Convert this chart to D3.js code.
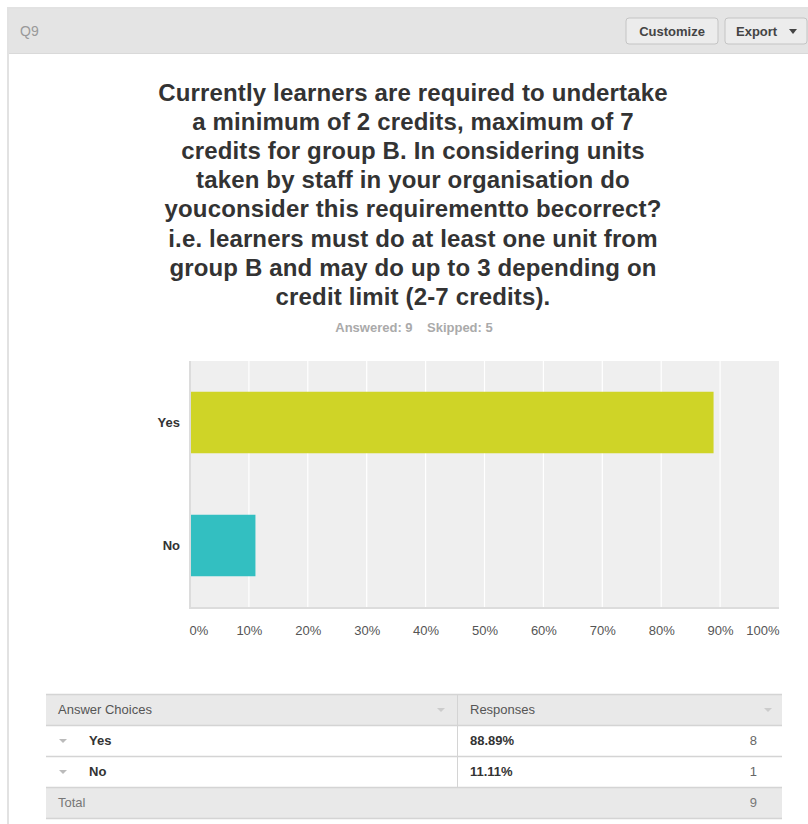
<!DOCTYPE html>
<html>
<head>
<meta charset="utf-8">
<script src="https://cdn.jsdelivr.net/npm/d3@7"></script>
<style>
  html, body { margin: 0; padding: 0; background: #fff; }
  svg { display: block; font-family: "Liberation Sans", Arial, Helvetica, sans-serif; }
</style>
</head>
<body>
<svg id="chart" width="808" height="824"></svg>
<script>
// Survey question and its answers
const questionId = "Q9";
const titleLines = [
  "Currently learners are required to undertake",
  "a minimum of 2 credits, maximum of 7",
  "credits for group B. In considering units",
  "taken by staff in your organisation do",
  "youconsider this requirementto becorrect?",
  "i.e. learners must do at least one unit from",
  "group B and may do up to 3 depending on",
  "credit limit (2-7 credits)."
];
const answered = 9;
const skipped = 5;
const categories = ["Yes", "No"];
const percents = [88.89, 11.11];
const counts = [8, 1];
const barColors = ["#cfd427", "#33bfc1"];
const tickValues = [0, 10, 20, 30, 40, 50, 60, 70, 80, 90, 100];

const svg = d3.select("#chart");

// Card frame and header band
svg.append("rect").attr("x", 8).attr("y", 8).attr("width", 812).attr("height", 830)
  .attr("fill", "#fff").attr("stroke", "#e2e2e2").attr("stroke-width", 2);
svg.append("rect").attr("x", 9).attr("y", 9).attr("width", 810).attr("height", 44)
  .attr("fill", "#e4e4e4");
svg.append("line").attr("x1", 9).attr("x2", 808).attr("y1", 53.5).attr("y2", 53.5)
  .attr("stroke", "#d9d9d9");
svg.append("text").attr("x", 20).attr("y", 36).attr("font-size", 14)
  .attr("fill", "#999").text(questionId);

// Header buttons
const buttons = [
  { label: "Customize", x: 626, w: 92, arrow: false },
  { label: "Export", x: 725, w: 82, arrow: true }
];
const btn = svg.selectAll("g.btn").data(buttons).join("g").attr("class", "btn")
  .attr("transform", d => `translate(${d.x},18)`);
btn.append("rect").attr("width", d => d.w).attr("height", 26).attr("rx", 3)
  .attr("fill", "#ececec").attr("stroke", "#c4c4c4");
btn.append("text")
  .attr("x", d => d.arrow ? 11 : d.w / 2)
  .attr("text-anchor", d => d.arrow ? "start" : "middle")
  .attr("y", 18).attr("font-size", 13).attr("font-weight", "bold").attr("fill", "#444")
  .text(d => d.label);
btn.filter(d => d.arrow).append("path")
  .attr("d", "M64,11 L72,11 L68,16 Z").attr("fill", "#444");

// Title
svg.append("g").selectAll("text").data(titleLines).join("text")
  .attr("x", 413).attr("y", (d, i) => 101 + i * 29.1)
  .attr("text-anchor", "middle").attr("font-size", 24).attr("font-weight", "bold")
  .attr("letter-spacing", 0.15)
  .attr("fill", "#333").text(d => d);

svg.append("text").attr("x", 414).attr("y", 332).attr("text-anchor", "middle")
  .attr("font-size", 13).attr("font-weight", "bold").attr("fill", "#aaa")
  .attr("xml:space", "preserve")
  .text(`Answered: ${answered}    Skipped: ${skipped}`);

// Bar chart
const plot = { left: 190, right: 779, top: 361, bottom: 607 };
const x = d3.scaleLinear().domain([0, 100]).range([plot.left, plot.right]);
const y = d3.scaleBand().domain(categories).range([plot.top, plot.bottom]).paddingInner(0.5).paddingOuter(0.25);

svg.append("rect").attr("x", plot.left).attr("y", plot.top)
  .attr("width", plot.right - plot.left).attr("height", plot.bottom - plot.top)
  .attr("fill", "#efefef");

svg.append("g").selectAll("line").data(tickValues.slice(1, -1)).join("line")
  .attr("x1", d => x(d)).attr("x2", d => x(d))
  .attr("y1", plot.top).attr("y2", plot.bottom)
  .attr("stroke", "#fff").attr("stroke-width", 1.2);

svg.append("g").selectAll("rect").data(categories).join("rect")
  .attr("x", x(0)).attr("y", d => y(d))
  .attr("width", (d, i) => x(percents[i]) - x(0))
  .attr("height", y.bandwidth())
  .attr("fill", (d, i) => barColors[i]);

// Axis lines
svg.append("line").attr("x1", plot.left).attr("x2", plot.right)
  .attr("y1", plot.bottom + 1).attr("y2", plot.bottom + 1)
  .attr("stroke", "#dcdcdc").attr("stroke-width", 2);
svg.append("line").attr("x1", plot.left).attr("x2", plot.left)
  .attr("y1", plot.top).attr("y2", plot.bottom + 2)
  .attr("stroke", "#dcdcdc").attr("stroke-width", 2);

// X axis tick labels
const lastTick = tickValues.length - 1;
const xAxis = d3.axisBottom(x).tickValues(tickValues).tickSize(0).tickPadding(0)
  .tickFormat(d => d + "%");
const xg = svg.append("g").attr("transform", `translate(0,${plot.bottom + 19})`).call(xAxis);
xg.select(".domain").remove();
xg.selectAll("text").attr("font-size", 13).attr("fill", "#555")
  .attr("font-family", "Liberation Sans, Arial, sans-serif")
  .attr("text-anchor", (d, i) => i === 0 ? "start" : (i === lastTick ? "end" : "middle"))
  .attr("dx", (d, i) => i === 0 ? -1 : 0);

// Y axis category labels
const yAxis = d3.axisLeft(y).tickSize(0).tickPadding(10);
const yg = svg.append("g").attr("transform", `translate(${plot.left},0)`).call(yAxis);
yg.select(".domain").remove();
yg.selectAll("text").attr("font-size", 13).attr("font-weight", "bold").attr("fill", "#333")
  .attr("font-family", "Liberation Sans, Arial, sans-serif");

// Summary table
const tbl = { left: 46, right: 782, split: 457, top: 694 };
const rowH = 31;
const rows = categories.map((c, i) => ({ label: c, pct: percents[i].toFixed(2) + "%", n: counts[i] }));
const total = d3.sum(counts);

const t = svg.append("g");
// header
t.append("rect").attr("x", tbl.left).attr("y", tbl.top).attr("width", tbl.right - tbl.left)
  .attr("height", rowH).attr("fill", "#e9e9e9");
// total row
t.append("rect").attr("x", tbl.left).attr("y", tbl.top + rowH * 3).attr("width", tbl.right - tbl.left)
  .attr("height", rowH).attr("fill", "#e9e9e9");
// horizontal rules
t.selectAll("line.h").data(d3.range(5)).join("line").attr("class", "h")
  .attr("x1", tbl.left).attr("x2", tbl.right)
  .attr("y1", d => tbl.top + d * rowH + 0.5).attr("y2", d => tbl.top + d * rowH + 0.5)
  .attr("stroke", "#d4d4d4").attr("stroke-width", 1.5);
// column split
t.append("line").attr("x1", tbl.split + 0.5).attr("x2", tbl.split + 0.5)
  .attr("y1", tbl.top).attr("y2", tbl.top + rowH * 3)
  .attr("stroke", "#d4d4d4");

const tri = (cx, cy) => `M${cx - 4},${cy - 2} L${cx + 4},${cy - 2} L${cx},${cy + 2} Z`;
const cellFont = "Liberation Sans, Arial, sans-serif";

t.append("text").attr("x", 58).attr("y", tbl.top + 20).attr("font-size", 13).attr("fill", "#555")
  .attr("font-family", cellFont).text("Answer Choices");
t.append("text").attr("x", 470).attr("y", tbl.top + 20).attr("font-size", 13).attr("fill", "#555")
  .attr("font-family", cellFont).text("Responses");
t.append("path").attr("d", tri(441, tbl.top + 16)).attr("fill", "#ccc");
t.append("path").attr("d", tri(768, tbl.top + 16)).attr("fill", "#ccc");

const rg = t.selectAll("g.row").data(rows).join("g").attr("class", "row")
  .attr("transform", (d, i) => `translate(0,${tbl.top + rowH * (i + 1)})`);
rg.append("path").attr("d", tri(63, 16)).attr("fill", "#bbb");
rg.append("text").attr("x", 89).attr("y", 20).attr("font-size", 13).attr("font-weight", "bold")
  .attr("fill", "#333").attr("font-family", cellFont).text(d => d.label);
rg.append("text").attr("x", 470).attr("y", 20).attr("font-size", 13).attr("font-weight", "bold")
  .attr("fill", "#333").attr("font-family", cellFont).text(d => d.pct);
rg.append("text").attr("x", 757).attr("y", 20).attr("font-size", 13).attr("text-anchor", "end")
  .attr("fill", "#666").attr("font-family", cellFont).text(d => d.n);

t.append("text").attr("x", 58).attr("y", tbl.top + rowH * 3 + 20).attr("font-size", 13).attr("fill", "#777")
  .attr("font-family", cellFont).text("Total");
t.append("text").attr("x", 757).attr("y", tbl.top + rowH * 3 + 20).attr("font-size", 13)
  .attr("text-anchor", "end").attr("fill", "#777").attr("font-family", cellFont).text(total);
</script>
</body>
</html>
